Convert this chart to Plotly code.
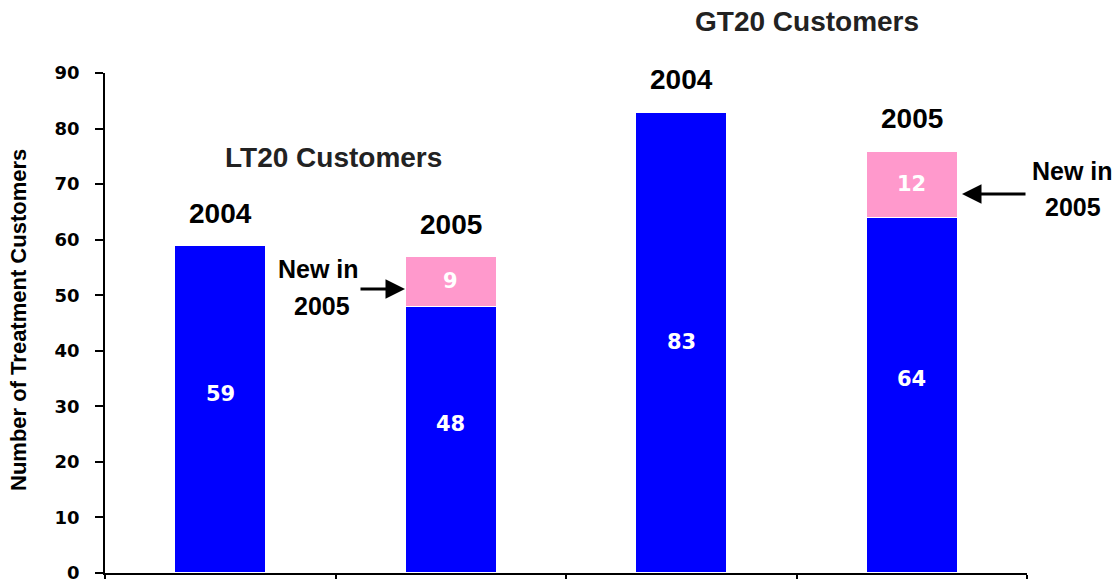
import plotly.graph_objects as go

# ---------------- data ----------------
categories = ["LT20 2004", "LT20 2005", "GT20 2004", "GT20 2005"]
year_labels = ["2004", "2005", "2004", "2005"]
existing_customers = [59, 48, 83, 64]
new_customers = [None, 9, None, 12]
group_titles = ["LT20 Customers", "GT20 Customers"]
new_label_lines = ["New in", "2005"]
y_ticks = [0, 10, 20, 30, 40, 50, 60, 70, 80, 90]
y_title = "Number of Treatment Customers"

# ---------------- style ----------------
BLUE = "#0000FF"
PINK = "#FF99CC"
BAR_W = 0.395
LAB_FONT = "Liberation Sans"
NUM_FONT = "DejaVu Sans"
value_label_shift = [15, 16, 0, 16]  # px, matches label placement in reference

# plot area in pixels (for paper-referenced text outside the axes)
PL, PR, PT, PB = 105, 1027, 73, 573


def px_x(px):
    return (px - PL) / (PR - PL)


def px_y(py):
    return (PB - py) / (PB - PT)


fig = go.Figure()
fig.add_trace(go.Bar(
    x=categories, y=existing_customers, width=BAR_W,
    marker=dict(color=BLUE, line=dict(color="white", width=1.5)),
    hoverinfo="skip", showlegend=False,
))
fig.add_trace(go.Bar(
    x=categories, y=new_customers, width=BAR_W,
    marker=dict(color=PINK, line=dict(color="white", width=1.5)),
    hoverinfo="skip", showlegend=False,
))

ann = []
# value labels inside bars
for i, v in enumerate(existing_customers):
    ann.append(dict(x=i, y=v / 2, xref="x", yref="y", text="<b>%d</b>" % v, showarrow=False,
                    yshift=value_label_shift[i],
                    font=dict(family=NUM_FONT, size=21, color="white")))
for i, n in enumerate(new_customers):
    if n is None:
        continue
    base = existing_customers[i]
    ann.append(dict(x=i, y=base + n / 2, xref="x", yref="y", text="<b>%d</b>" % n, showarrow=False,
                    font=dict(family=NUM_FONT, size=21, color="white")))
# year labels above bars
for i, yl in enumerate(year_labels):
    total = existing_customers[i] + (new_customers[i] or 0)
    ann.append(dict(x=i, y=total, xref="x", yref="y", text="<b>%s</b>" % yl, showarrow=False,
                    yshift=32, yanchor="middle",
                    font=dict(family=LAB_FONT, size=28, color="black")))
# group titles
ann.append(dict(x=px_x(333), y=px_y(157), xref="paper", yref="paper",
                text="<b>%s</b>" % group_titles[0], showarrow=False,
                xanchor="center", yanchor="middle",
                font=dict(family=LAB_FONT, size=28, color="#222222")))
ann.append(dict(x=px_x(807), y=px_y(22), xref="paper", yref="paper",
                text="<b>%s</b>" % group_titles[1], showarrow=False,
                xanchor="center", yanchor="middle",
                font=dict(family=LAB_FONT, size=28, color="#222222")))
# "New in 2005" callouts
new_font = dict(family=LAB_FONT, size=25, color="black")
for (cx, cy), line in zip([(318, 269), (322, 306), (1072, 171), (1073, 207)],
                          new_label_lines * 2):
    ann.append(dict(x=px_x(cx), y=px_y(cy), xref="paper", yref="paper",
                    text="<b>%s</b>" % line, showarrow=False,
                    xanchor="center", yanchor="middle", font=new_font))
# arrows
ann.append(dict(x=px_x(405), y=px_y(289), xref="paper", yref="paper", text="", showarrow=True,
                ax=-46, ay=0, arrowhead=2, arrowsize=1.3, arrowwidth=3,
                arrowcolor="black", standoff=0))
ann.append(dict(x=px_x(962), y=px_y(194), xref="paper", yref="paper", text="", showarrow=True,
                ax=65, ay=0, arrowhead=2, arrowsize=1.3, arrowwidth=3,
                arrowcolor="black", standoff=0))
# y axis title
ann.append(dict(x=px_x(18), y=px_y(320), xref="paper", yref="paper",
                text="<b>%s</b>" % y_title, showarrow=False, textangle=-90,
                xanchor="center", yanchor="middle",
                font=dict(family=LAB_FONT, size=22, color="black")))

fig.update_layout(
    width=1118, height=579,
    margin=dict(l=PL, r=1118 - PR, t=PT, b=579 - PB, autoexpand=False),
    paper_bgcolor="white", plot_bgcolor="white",
    barmode="stack",
    annotations=ann,
    showlegend=False,
)
fig.update_xaxes(
    type="category", categoryorder="array", categoryarray=categories,
    range=[-0.5, 3.5], showticklabels=False, tickson="boundaries",
    ticks="outside", ticklen=6, tickwidth=1.5, tickcolor="black",
    showline=True, linecolor="black", linewidth=1.5, showgrid=False, zeroline=False,
)
fig.update_yaxes(
    range=[0, 90], tickvals=y_ticks, ticktext=["<b>%d</b>" % t for t in y_ticks],
    ticks="outside", ticklen=8, tickwidth=1.5, tickcolor="black",
    ticklabelstandoff=12, ticklabeloverflow="allow",
    tickfont=dict(family=NUM_FONT, size=18, color="black"),
    showline=True, linecolor="black", linewidth=1.5, showgrid=False, zeroline=False,
)

fig.write_html(
    "out.html",
    config={"displayModeBar": False},
    post_script="document.body.style.margin='0';document.body.style.overflow='hidden';",
)
